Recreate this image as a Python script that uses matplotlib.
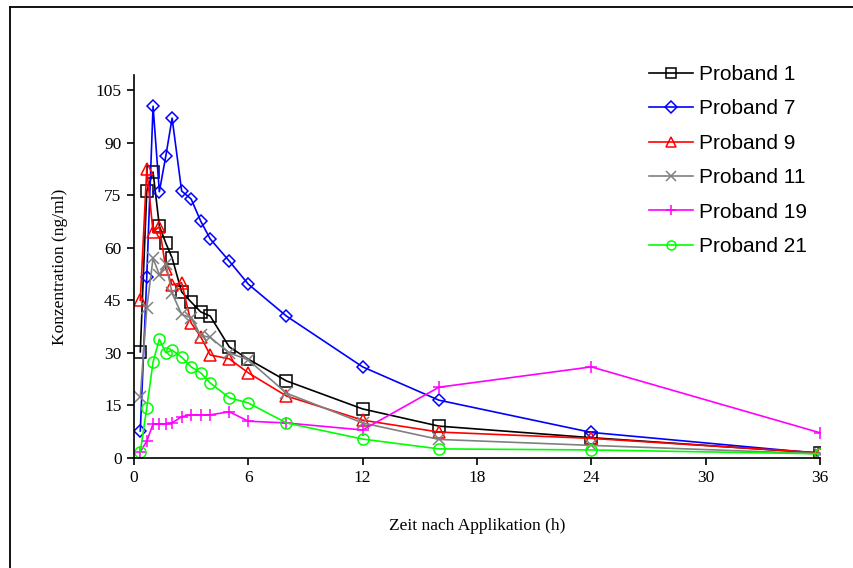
import matplotlib
matplotlib.use('Agg')
import matplotlib.pyplot as plt
from matplotlib.lines import Line2D

# sampling times (h)
zeit = [0.33, 0.67, 1, 1.33, 1.67, 2, 2.5, 3, 3.5, 4, 5, 6, 8, 12, 16, 24, 36]

# concentrations (ng/ml)
proband_1 = [30.3, 76.2, 81.6, 66.2, 61.3, 57.1, 47.4, 44.5, 41.7, 40.5, 31.7, 28.2, 22.0, 14.0, 9.1, 5.8, 1.4]
proband_7 = [7.7, 51.7, 100.4, 76.0, 86.2, 97.0, 76.2, 73.9, 67.6, 62.5, 56.2, 49.6, 40.5, 26.0, 16.5, 7.3, 1.3]
proband_9 = [45.0, 82.4, 64.5, 66.0, 54.0, 49.4, 50.0, 38.5, 34.6, 29.4, 28.3, 24.3, 17.7, 10.8, 7.4, 5.6, 1.5]
proband_11 = [17.4, 42.8, 57.0, 52.3, 55.5, 47.0, 41.0, 40.0, 35.0, 34.4, 30.0, 28.0, 18.5, 10.0, 5.3, 3.6, 1.2]
proband_19 = [1.7, 4.8, 9.7, 9.7, 9.7, 10.0, 11.8, 12.3, 12.3, 12.3, 13.2, 10.5, 10.0, 8.0, 20.2, 26.0, 7.2]
proband_21 = [1.8, 14.3, 27.4, 33.9, 30.0, 30.8, 28.8, 26.0, 24.3, 21.4, 17.2, 15.7, 10.0, 5.4, 2.6, 2.3, 1.2]

serien = [
    ('Proband 1', proband_1, 'black', 's'),
    ('Proband 7', proband_7, '#0000FF', 'D'),
    ('Proband 9', proband_9, '#FF0000', '^'),
    ('Proband 11', proband_11, '#808080', 'x'),
    ('Proband 19', proband_19, '#FF00FF', '+'),
    ('Proband 21', proband_21, '#00FF00', 'o'),
]

fig = plt.figure(figsize=(8.54, 5.68), dpi=100)
ax = fig.add_axes([134 / 854, 1 - 458 / 568, (820 - 134) / 854, (458 - 75) / 568])

for name, werte, farbe, marker in serien:
    ms = 6.5 if marker == 'D' else 8
    ax.plot(zeit, werte, color=farbe, marker=marker, markersize=ms, lw=1.2,
            markerfacecolor='none', markeredgecolor=farbe, markeredgewidth=1.1,
            label=name)

ax.set_xlim(0, 36)
ax.set_ylim(0, 109.3)
ax.set_xticks([0, 6, 12, 18, 24, 30, 36])
ax.set_yticks([0, 15, 30, 45, 60, 75, 90, 105])
for s in ['top', 'right']:
    ax.spines[s].set_visible(False)
for s in ['left', 'bottom']:
    ax.spines[s].set_linewidth(1.2)
ax.tick_params(direction='out', length=5, width=1.2, labelsize=12.5, pad=4)
for lab in ax.get_xticklabels() + ax.get_yticklabels():
    lab.set_family('Liberation Serif')

ax.set_xlabel('Zeit nach Applikation (h)', family='Liberation Serif', fontsize=12.5, labelpad=23)
ax.set_ylabel('Konzentration (ng/ml)', family='Liberation Serif', fontsize=12.5, labelpad=20)

leg = ax.legend(loc='upper left', bbox_to_anchor=(649 / 854, 1 - 65 / 568),
                bbox_transform=fig.transFigure, frameon=False,
                prop={'family': 'Liberation Sans', 'size': 15},
                handlelength=2.1, handletextpad=0.3, labelspacing=0.74,
                borderaxespad=0, borderpad=0)
for h in leg.legend_handles:
    h.set_markersize(6.5)

# outer frame (left and top edges visible)
fig.add_artist(Line2D([10 / 854, 10 / 854], [0, 1 - 7 / 568], color='black', lw=1.3,
                      transform=fig.transFigure))
fig.add_artist(Line2D([10 / 854, 1], [1 - 7 / 568, 1 - 7 / 568], color='black', lw=1.3,
                      transform=fig.transFigure))

fig.savefig('out.png', dpi=100)
